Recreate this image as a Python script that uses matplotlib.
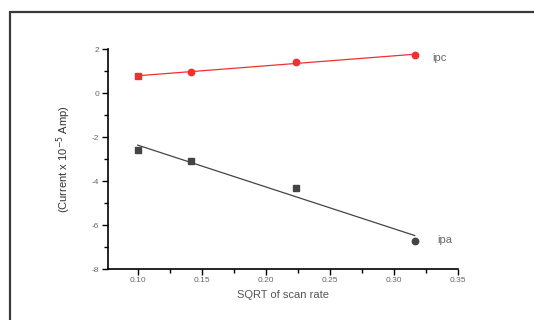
import numpy as np
import matplotlib
matplotlib.use("Agg")
import matplotlib.pyplot as plt
from matplotlib.patches import Rectangle
from matplotlib.ticker import MultipleLocator

sqrt_scan = [0.100, 0.1414, 0.2236, 0.3162]
ipc = [0.76, 0.97, 1.40, 1.73]
ipa = [-2.60, -3.09, -4.30, -6.73]
ipc_markers = ['s', 'o', 'o', 'o']
ipa_markers = ['s', 's', 's', 'o']
xticks = [0.10, 0.15, 0.20, 0.25, 0.30, 0.35]
yticks = [2, 0, -2, -4, -6, -8]

plt.rcParams['font.family'] = ['Liberation Sans', 'DejaVu Sans']

fig = plt.figure(figsize=(5.34, 3.2), dpi=100)
fig.patches.append(Rectangle((10/534, -0.2), 1.2, 1.2 - 12/320, transform=fig.transFigure,
                             fill=False, edgecolor='#3a3a3a', lw=1.6, zorder=0))
ax = fig.add_axes([107.7/534, 1-269/320, (458-107.7)/534, (269-49)/320])

x = np.array(sqrt_scan)
for yv, col, mk in [(ipc, '#f03030', ipc_markers), (ipa, '#444444', ipa_markers)]:
    p = np.polyfit(x, yv, 1)
    ax.plot(x[[0, -1]], np.polyval(p, x[[0, -1]]), color=col, lw=0.9)
    for xi, yi, m in zip(x, yv, mk):
        ax.plot(xi, yi, marker=m, color=col, ms=4.2 if m == 's' else 4.6, ls='none')

ax.set_xlim(0.0766, 0.35)
ax.set_ylim(-8, 2)
ax.set_xticks(xticks)
ax.set_xticklabels([f"{t:.2f}" for t in xticks])
ax.set_yticks(yticks)
ax.set_yticklabels([str(t) for t in yticks])
ax.xaxis.set_minor_locator(MultipleLocator(0.025))
ax.yaxis.set_minor_locator(MultipleLocator(1))
for s in ['top', 'right']:
    ax.spines[s].set_visible(False)
for s in ['left', 'bottom']:
    ax.spines[s].set_linewidth(1.2)
ax.tick_params(which='major', length=4, width=1, labelsize=6, labelcolor='#666666', pad=2)
ax.tick_params(which='minor', length=3, width=1)
ax.set_xlabel('SQRT of scan rate', fontsize=8, color='#555555', labelpad=4)
ax.set_ylabel('(Current x 10$^{-5}$ Amp)', fontsize=8, color='#333333')
ax.yaxis.set_label_coords(-0.1, 0.5)
fig.text(432/534, 1-58/320, 'ipc', fontsize=8, color='#666666', va='center')
fig.text(437/534, 1-240/320, 'ipa', fontsize=8, color='#666666', va='center')
fig.savefig('out.png', dpi=100)
